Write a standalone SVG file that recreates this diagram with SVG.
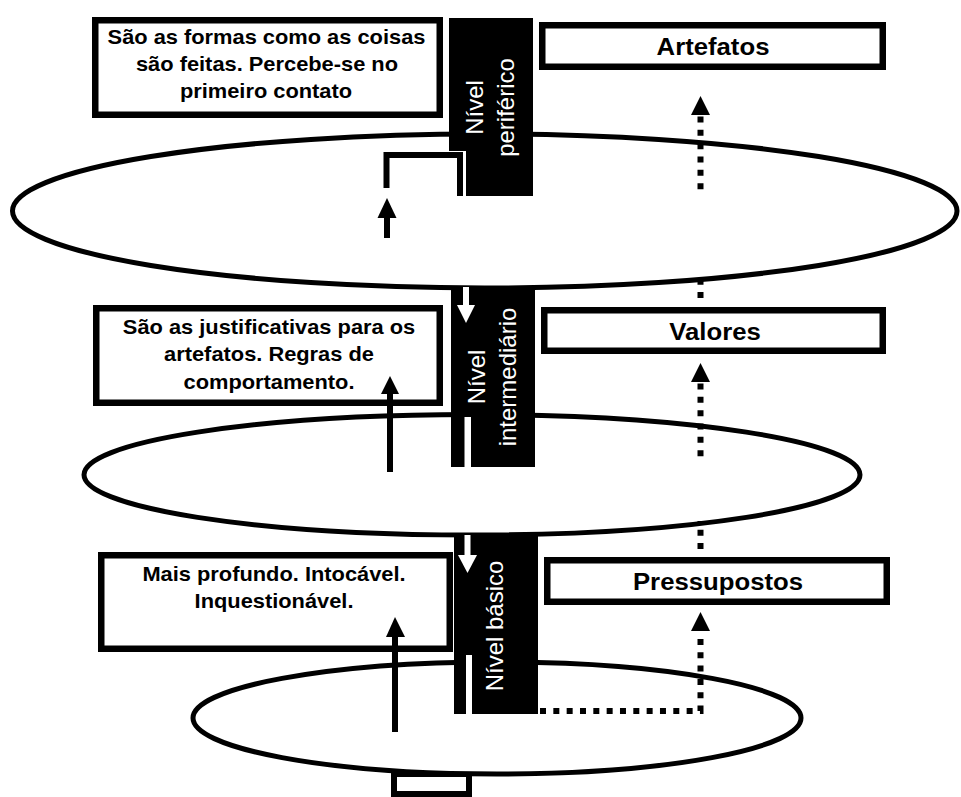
<svg xmlns="http://www.w3.org/2000/svg" width="961" height="797" viewBox="0 0 961 797">
<style>
.box{fill:#fff;stroke:#000;stroke-width:6.5}
.ell{fill:#fff;stroke:#000;stroke-width:5}
.bar{fill:#000}
.wh{fill:#fff}
.bt{font-family:"Liberation Sans",Arial,sans-serif;font-weight:bold;font-size:20.8px;text-anchor:middle;fill:#000}
.tt{font-family:"Liberation Sans",Arial,sans-serif;font-weight:bold;font-size:24.5px;text-anchor:middle;fill:#000}
.vt{font-family:"Liberation Sans",Arial,sans-serif;font-size:24px;text-anchor:middle;fill:#fff}
.sol{fill:none;stroke:#000;stroke-width:6}
.dot{fill:none;stroke:#000;stroke-width:6;stroke-dasharray:6 7.33}
.hd{fill:#000}
</style>
<rect width="961" height="797" fill="#fff"/>
<g id="base-rect"><rect x="394" y="774" width="75" height="20" fill="#fff" stroke="#000" stroke-width="6"/></g>
<g id="ellipse-1"><ellipse class="ell" cx="484.75" cy="211" rx="472.25" ry="77"/></g>
<g id="ellipse-2"><ellipse class="ell" cx="472" cy="474.75" rx="388" ry="60.25"/></g>
<g id="ellipse-3"><ellipse class="ell" cx="497" cy="718" rx="304" ry="56"/></g>
<g id="bar-periferico">
<rect class="bar" x="449" y="18" width="84" height="178"/>
<rect class="wh" x="449" y="151" width="17" height="45"/>
<text class="vt" transform="translate(483,107.5) rotate(-90)">Nível</text>
<text class="vt" transform="translate(514,107.5) rotate(-90)">periférico</text>
</g>
<g id="bar-intermediario">
<rect class="bar" x="451" y="287" width="84" height="180"/>
<rect class="wh" x="464.5" y="417" width="6.5" height="50"/>
<rect class="wh" x="463" y="287" width="6" height="19"/>
<polygon class="wh" points="457,305 475,305 466,323"/>
<text class="vt" transform="translate(485,377) rotate(-90)">Nível</text>
<text class="vt" transform="translate(516,377) rotate(-90)">intermediário</text>
</g>
<g id="bar-basico">
<rect class="bar" x="454" y="535" width="84" height="179"/>
<rect class="wh" x="466" y="655" width="6" height="59"/>
<rect class="wh" x="464.5" y="535" width="6" height="21"/>
<polygon class="wh" points="458,555 477,555 467.5,573"/>
<text class="vt" transform="translate(503,626) rotate(-90)">Nível básico</text>
</g>
<g id="desc-artefatos">
<rect class="box" x="95.25" y="20.25" width="344.5" height="94.5"/>
<text class="bt" transform="translate(266.5,44) scale(1.05,1)">São as formas como as coisas</text>
<text class="bt" transform="translate(267,71) scale(1.05,1)">são feitas. Percebe-se no</text>
<text class="bt" transform="translate(266,98) scale(1.05,1)">primeiro contato</text>
</g>
<g id="desc-valores">
<rect class="box" x="96.25" y="308.25" width="343.5" height="94.5"/>
<text class="bt" transform="translate(269,333.5) scale(1.05,1)">São as justificativas para os</text>
<text class="bt" transform="translate(269,361) scale(1.05,1)">artefatos. Regras de</text>
<text class="bt" transform="translate(269,388.5) scale(1.05,1)">comportamento.</text>
</g>
<g id="desc-pressupostos">
<rect class="box" x="101.25" y="555.25" width="348.5" height="93.5"/>
<text class="bt" transform="translate(274,580.5) scale(1.05,1)">Mais profundo. Intocável.</text>
<text class="bt" transform="translate(274,607.5) scale(1.05,1)">Inquestionável.</text>
</g>
<g id="title-artefatos">
<rect class="box" x="542.25" y="25.25" width="340.5" height="41.5"/>
<text class="tt" transform="translate(713,55) scale(1.05,1)">Artefatos</text>
</g>
<g id="title-valores">
<rect class="box" x="544.25" y="310.25" width="338.5" height="40.5"/>
<text class="tt" transform="translate(715,339.5) scale(1.05,1)">Valores</text>
</g>
<g id="title-pressupostos">
<rect class="box" x="547.25" y="560.25" width="339.5" height="41.5"/>
<text class="tt" transform="translate(718,589.5) scale(1.05,1)">Pressupostos</text>
</g>
<g id="connectors">
<path class="sol" stroke-width="5" d="M386.5,188 V155 H460 V196"/>
<path class="sol" d="M387,238 V216"/>
<polygon class="hd" points="387,198 377.5,218 396.5,218"/>
<path class="sol" d="M390,472 V392"/>
<polygon class="hd" points="390,376 381,394 399,394"/>
<path class="sol" d="M395,732 V635"/>
<polygon class="hd" points="395,617 386,637 405,637"/>
<polygon class="hd" points="700.5,96 691,115 710,115"/>
<path class="dot" d="M700.5,116.5 V190"/>
<path class="dot" d="M700.5,298 V278"/>
<polygon class="hd" points="700.5,363 691,382 710,382"/>
<path class="dot" d="M700.5,383.5 V458"/>
<path class="dot" d="M700.5,549 V521"/>
<polygon class="hd" points="700.5,612 691,631 710,631"/>
<path class="dot" d="M540,711 H700.5 V632"/>
</g>
</svg>
